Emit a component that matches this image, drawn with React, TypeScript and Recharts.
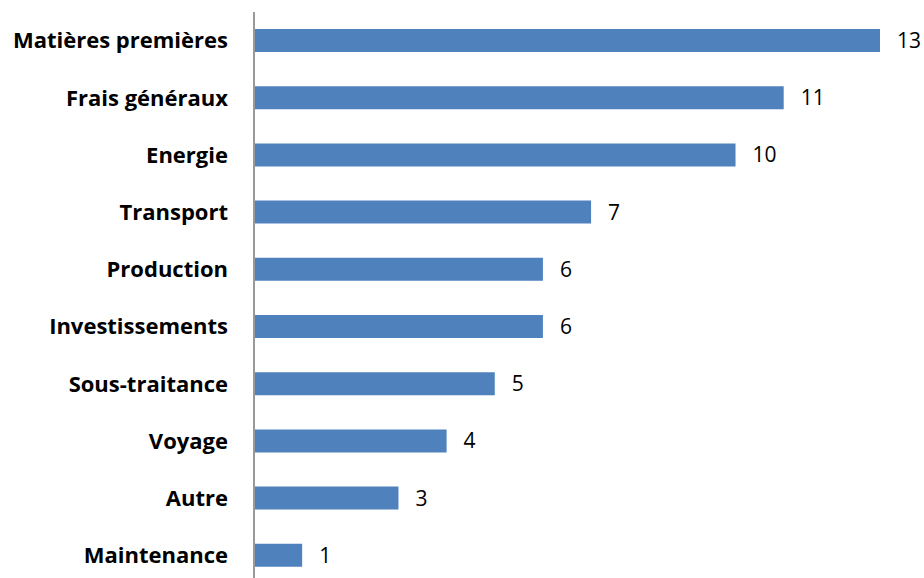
import { BarChart, Bar, XAxis, YAxis, LabelList } from 'recharts'

const categories = ['Matières premières', 'Frais généraux', 'Energie', 'Transport', 'Production', 'Investissements', 'Sous-traitance', 'Voyage', 'Autre', 'Maintenance']
const values = [13, 11, 10, 7, 6, 6, 5, 4, 3, 1]

const data = categories.map((name, i) => ({ name, value: values[i] }))

export default function App() {
  return (
    <div style={{ position: 'absolute', left: 0, top: 0, width: 924, height: 578, overflow: 'hidden', background: '#fff' }}>
      <BarChart width={924} height={590} data={data} layout="vertical" margin={{ top: 12, right: 44, left: 0, bottom: 6 }} barCategoryGap={17}>
        <XAxis type="number" domain={[0, 13]} hide />
        <YAxis
          type="category"
          dataKey="name"
          width={254}
          tickSize={0}
          tickMargin={26}
          axisLine={{ stroke: '#999999', strokeWidth: 2 }}
          tickLine={false}
          tick={{ fontSize: 22, fontWeight: 700, fontFamily: 'Open Sans', fill: '#000' }}
        />
        <Bar dataKey="value" fill="#4F81BD" barSize={23} isAnimationActive={false}>
          <LabelList dataKey="value" position="right" offset={17} style={{ fontSize: 21, fontFamily: 'Open Sans', fill: '#000' }} />
        </Bar>
      </BarChart>
    </div>
  )
}
